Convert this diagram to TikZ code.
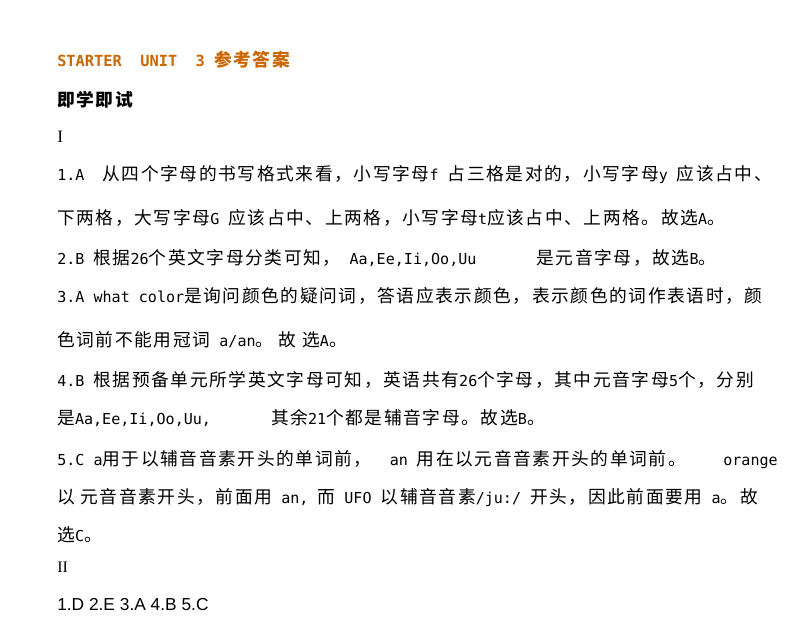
\documentclass[tikz,border=0pt]{standalone}
\usepackage{fontspec}
\setmainfont{DejaVu Sans Mono}
\newfontfamily\cjk[LetterSpace=9]{Noto Sans CJK SC}
\newfontfamily\arial{Liberation Sans}
\newcommand{\zh}[1]{{\fontsize{13.3}{14}\cjk #1}}
\definecolor{org}{RGB}{204,102,0}
\begin{document}
\begin{tikzpicture}[x=0.75pt,y=-0.75pt,
  ln/.style={anchor=west,inner sep=0pt,font=\fontsize{11.3}{14}\selectfont}]
\useasboundingbox[fill=white] (0,0) rectangle (800,622);
\node[ln,text=org,font=\fontsize{11.5}{14}\bfseries\selectfont] (t) at (57,60) {STARTER\ \ UNIT\ \ 3 \zh{\bfseries 参考答案}};
\node[ln] (h) at (57,100) {\zh{\bfseries 即学即试}};
\node[ln,font=\fontsize{13}{14}\rmfamily\selectfont] (r1) at (57,137) {\fontspec{Liberation Serif}I};
\node[ln] (l1) at (57,175) {1.A \ \zh{从四个字母的书写格式来看，小写字母}f \zh{占三格是对的，小写字母}y \zh{应该占中、}};
\node[ln] (l2) at (57,218) {\zh{下两格，大写字母}G \zh{应该占中、上两格，小写字母}t\zh{应该占中、上两格。故选}A\zh{。}};
\node[ln] (l3) at (57,258) {2.B \zh{根据}26\zh{个英文字母分类可知，}\ Aa,Ee,Ii,Oo,Uu\hspace{45pt}\zh{是元音字母，故选}B\zh{。}};
\node[ln] (l4) at (57,296) {3.A what color\zh{是询问颜色的疑问词，答语应表示颜色，表示颜色的词作表语时，颜}};
\node[ln] (l5) at (57,340) {\zh{色词前不能用冠词} a/an\zh{。\ 故\ 选}A\zh{。}};
\node[ln] (l6) at (57,380) {4.B \zh{根据预备单元所学英文字母可知，英语共有}26\zh{个字母，其中元音字母}5\zh{个，分别}};
\node[ln] (l7) at (57,418) {\zh{是}Aa,Ee,Ii,Oo,Uu,\hspace{45pt}\zh{其余}21\zh{个都是辅音字母。故选}B\zh{。}};
\node[ln] (l8) at (57,460) {5.C a\zh{用于以辅音音素开头的单词前，}\ \ an \zh{用在以元音音素开头的单词前。}\hspace{28pt}orange};
\node[ln] (l9) at (57,498) {\zh{以\ 元音音素开头，前面用} an, \zh{而} UFO \zh{以辅音音素}/ju:/ \zh{开头，因此前面要用} a\zh{。故}};
\node[ln] (l10) at (57,535) {\zh{选}C\zh{。}};
\node[ln,font=\fontsize{12}{14}\selectfont] (r2) at (57,567) {\fontspec{Liberation Serif}II};
\node[ln,font=\fontsize{13}{14}\arial] (l11) at (57,605) {1.D 2.E 3.A 4.B 5.C};
\end{tikzpicture}
\end{document}
